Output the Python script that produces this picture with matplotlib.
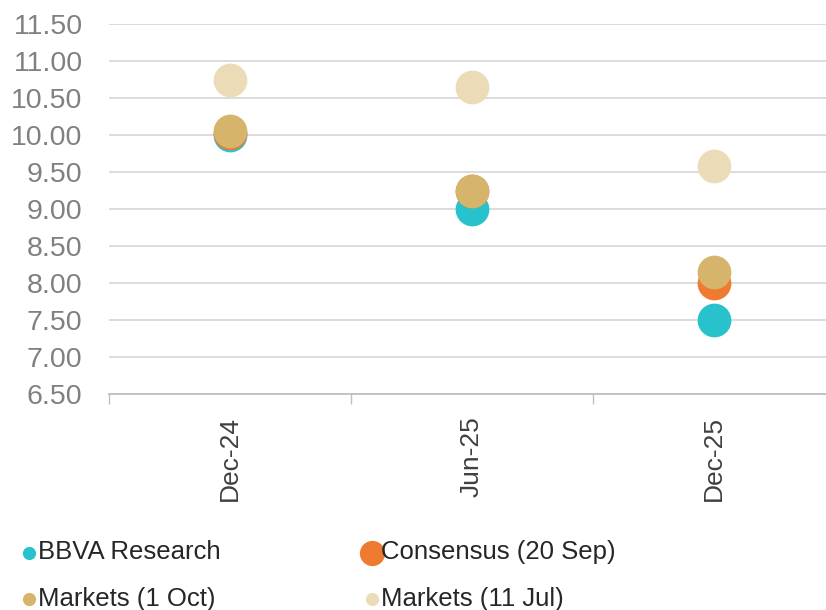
import numpy as np
import matplotlib.pyplot as plt
from matplotlib.ticker import FixedLocator, FormatStrFormatter

plt.rcParams['font.family'] = ['Liberation Sans', 'DejaVu Sans']

periods = ["Dec-24", "Jun-25", "Dec-25"]
bbva = [10.00, 9.00, 7.50]
consensus = [10.03, 9.25, 8.00]
markets_oct = [10.05, 9.25, 8.15]
markets_jul = [10.75, 10.65, 9.58]

series = [
    ("BBVA Research", bbva, "#27c2cc", 90),
    ("Consensus (20 Sep)", consensus, "#ee7b30", 330),
    ("Markets (1 Oct)", markets_oct, "#d6b46c", 90),
    ("Markets (11 Jul)", markets_jul, "#ebdcb7", 90),
]

fig = plt.figure(figsize=(8.26, 6.10), dpi=100)
ax = fig.add_axes([109 / 826, 1 - 394 / 610, 1 - 109 / 826, 370 / 610])

x = np.arange(len(periods))
handles = {}
for label, vals, col, _ in series:
    handles[label] = ax.scatter(x, vals, s=590, color=col, label=label,
                                zorder=3, linewidths=0)

ax.set_ylim(6.5, 11.5)
ax.set_xlim(-0.5, 2.463)
ax.yaxis.set_major_locator(FixedLocator(np.arange(6.5, 11.51, 0.5)))
ax.yaxis.set_major_formatter(FormatStrFormatter('%.2f'))
ax.grid(axis='y', color='#d9d9d9', linewidth=1.3, zorder=0)
ax.set_axisbelow(True)

for s in ['top', 'right', 'left']:
    ax.spines[s].set_visible(False)
ax.spines['bottom'].set_color('#bfbfbf')
ax.spines['bottom'].set_linewidth(1.3)

ax.tick_params(axis='y', length=0, pad=19, labelsize=20.5, labelcolor='#808080')
ax.set_xticks(x)
ax.set_xticklabels(periods, rotation=90)
ax.set_xticks([-0.5, 0.5, 1.5], minor=True)
ax.tick_params(axis='x', which='major', length=0, pad=16, labelsize=19,
               labelcolor='#404040')
ax.tick_params(axis='x', which='minor', length=7, width=1, color='#bfbfbf')

# legend fills column by column, so order for rows: BBVA | Consensus, Oct | Jul
order = ["BBVA Research", "Markets (1 Oct)", "Consensus (20 Sep)", "Markets (11 Jul)"]
sizes = {lab: sz for lab, _, _, sz in series}
leg = fig.legend(handles=[handles[k] for k in order], loc='upper left', ncol=2,
                 bbox_to_anchor=(0.012, 0.131), frameon=False, fontsize=18.5,
                 handletextpad=0.0, columnspacing=5.55, labelspacing=0.88,
                 borderaxespad=0, handlelength=0.7, labelcolor='#262626')
for h, k in zip(leg.legend_handles, order):
    h.set_sizes([sizes[k]])

fig.savefig("out.png", dpi=100)
